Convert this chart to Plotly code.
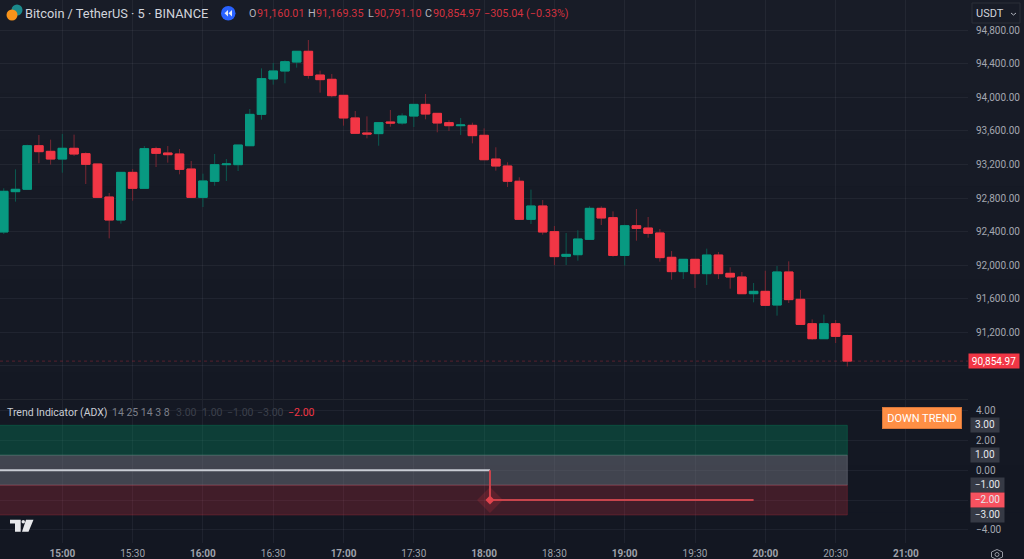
import pandas as pd
import plotly.graph_objects as go

# ---------- data ----------
first_bar = "2024-12-19 14:35"
opens = [92395,92876,92904,93424,93357,93265,93393,93329,93206,92812,92538,93106,92916,93389,93337,93325,93146,92808,92999,93198,93198,93424,93798,94220,94315,94422,
         94550,94267,94216,94025,93755,93576,93568,93707,93695,93778,93917,93810,93699,93663,93667,93548,93265,93182,93000,92546,92705,92399,92105,92124,92307,
         92677,92566,92116,92470,92442,92383,92093,91922,92069,91898,92120,91902,91858,91659,91687,91524,91918,91592,91301,91122,91301,91160.01]
closes = [92880,92904,93424,93353,93265,93393,93325,93202,92808,92538,93106,92916,93389,93333,93317,93142,92808,93003,93198,93206,93432,93798,94224,94315,94426,94550,
          94263,94212,94021,93755,93572,93564,93699,93695,93778,93917,93802,93695,93663,93671,93544,93257,93182,93000,92546,92705,92395,92101,92128,92311,92677,
          92562,92116,92470,92438,92379,92089,91922,92069,91898,92120,91898,91858,91659,91687,91520,91918,91588,91293,91122,91301,91150,90854.97]
highs = [92916,93142,93436,93552,93496,93564,93556,93345,93206,92860,93106,93146,93420,93412,93420,93385,93242,93091,93325,93265,93432,93862,94347,94411,94442,94550,
         94685,94319,94279,94025,93838,93774,93699,93850,93810,93917,94041,93810,93727,93755,93699,93631,93405,93226,93047,92900,92776,92466,92383,92415,92701,
         92701,92641,92482,92669,92574,92430,92168,92069,92069,92196,92156,91973,91918,91786,91933,91989,92045,91703,91353,91409,91345,91169.35]
lows = [92371,92757,92904,93214,93198,93102,93301,92967,92808,92319,92494,92768,92916,93170,93222,93083,92808,92693,92947,93003,93122,93424,93735,94152,94168,94355,
        94224,94057,94001,93663,93568,93512,93424,93651,93675,93647,93739,93584,93600,93552,93452,93257,93126,92932,92546,92490,92363,92001,92001,92053,92307,
        92478,92101,91997,92291,92327,92041,91826,91834,91727,91763,91834,91719,91659,91556,91520,91397,91548,91293,91110,91118,91071,90791.10]
last_price = 90854.97

price_ticks = [94800,94400,94000,93600,93200,92800,92400,92000,91600,91200,90800]
price_labels = ["94,800.00","94,400.00","94,000.00","93,600.00","93,200.00","92,800.00","92,400.00","92,000.00","91,600.00","91,200.00",""]
state_ticks = [4,2,0,-2,-4]
state_labels = ["4.00","2.00","0.00","","−4.00"]
time_ticks = ["15:00","15:30","16:00","16:30","17:00","17:30","18:00","18:30","19:00","19:30","20:00","20:30","21:00"]

neutral_x = ["2024-12-19 14:30","2024-12-19 18:02:30"]
neutral_y = [0,0]
down_x = ["2024-12-19 18:02:30","2024-12-19 18:02:30","2024-12-19 19:55"]
down_y = [0,-2,-2]
flip_x = ["2024-12-19 18:02:30"]
flip_y = [-2]
band_start, band_end = "2024-12-19 14:30", "2024-12-19 20:35"
bands = [(1,3,"rgba(0,150,100,0.31)"),(-1,1,"rgba(120,123,134,0.46)"),(-3,-1,"rgba(242,54,69,0.21)")]

# ---------- geometry helpers (page pixels to paper fractions) ----------
W, H = 1024, 559
def px(x): return x / W
def py(y): return 1 - y / H

times = pd.date_range(first_bar, periods=len(opens), freq="5min")
UP, DOWN, UP_W, DOWN_W = "#089981", "#f23645", "#0b5a50", "#7a2733"
GRID = "rgba(240,243,250,0.055)"
FONT = "Roboto"

fig = go.Figure()
# wicks
fig.add_trace(go.Candlestick(x=times, open=opens, high=highs, low=lows, close=closes, xaxis="x", yaxis="y", whiskerwidth=0,
    increasing=dict(line=dict(color=UP_W, width=1), fillcolor=UP_W), decreasing=dict(line=dict(color=DOWN_W, width=1), fillcolor=DOWN_W)))
# bodies
body_hi = [max(o, c) for o, c in zip(opens, closes)]
body_lo = [min(o, c) for o, c in zip(opens, closes)]
fig.add_trace(go.Candlestick(x=times, open=opens, high=body_hi, low=body_lo, close=closes, xaxis="x", yaxis="y", whiskerwidth=0,
    increasing=dict(line=dict(color=UP, width=1), fillcolor=UP), decreasing=dict(line=dict(color=DOWN, width=1), fillcolor=DOWN)))

for lo, hi, col in bands:
    fig.add_trace(go.Scatter(x=[band_start, band_end, band_end, band_start, band_start], y=[lo, lo, hi, hi, lo],
        mode="lines", fill="toself", fillcolor=col, line=dict(width=1, color=col), xaxis="x2", yaxis="y2"))
fig.add_trace(go.Scatter(x=neutral_x, y=neutral_y, mode="lines", line=dict(color="#c9ccd4", width=2), xaxis="x2", yaxis="y2"))
fig.add_trace(go.Scatter(x=down_x, y=down_y, mode="lines", line=dict(color="#c8444c", width=2), xaxis="x2", yaxis="y2"))
fig.add_trace(go.Scatter(x=flip_x, y=flip_y, mode="markers", marker=dict(symbol="diamond", size=20, color="rgba(242,54,69,0.16)", line=dict(width=0)), xaxis="x2", yaxis="y2"))
fig.add_trace(go.Scatter(x=flip_x, y=flip_y, mode="markers", marker=dict(symbol="diamond", size=7, color="#e0434c", line=dict(width=0)), xaxis="x2", yaxis="y2"))

# ---------- background + chrome shapes ----------
shapes = []
top_c, bot_c = (24, 28, 39), (19, 23, 34)
N = 12
for i in range(N):
    t = i / (N - 1)
    c = tuple(round(a + (b - a) * t) for a, b in zip(top_c, bot_c))
    shapes.append(dict(type="rect", xref="paper", yref="paper", x0=0, x1=1, y0=py(H * (i + 1) / N + 1), y1=py(H * i / N),
                       fillcolor="rgb(%d,%d,%d)" % c, line=dict(width=0), layer="below"))
# last price line
shapes.append(dict(type="line", xref="paper", yref="y", x0=0, x1=px(968), y0=last_price, y1=last_price,
                   line=dict(color="rgba(242,54,69,0.3)", width=1, dash="dot")))
# pane separator
shapes.append(dict(type="line", xref="paper", yref="paper", x0=0, x1=px(968), y0=py(399.5), y1=py(399.5), line=dict(color="#22262f", width=1)))
# cover + USDT box
shapes.append(dict(type="rect", xref="paper", yref="paper", x0=px(968), x1=1, y0=py(26), y1=1, fillcolor="#181c27", line=dict(width=0)))
shapes.append(dict(type="rect", xref="paper", yref="paper", x0=px(972), x1=px(1020), y0=py(23), y1=py(3), fillcolor="#181c27", line=dict(color="#2a2e39", width=1)))
shapes.append(dict(type="path", xref="paper", yref="paper", line=dict(color="#b2b5be", width=1),
    path=f"M{px(1011)},{py(13)} L{px(1013.5)},{py(15)} L{px(1016)},{py(13)}"))
# symbol icons
for cx, cy, r, col in [(17, 10, 5.5, "#1b8a8c"), (12, 15, 5.5, "#f7931a")]:
    shapes.append(dict(type="circle", xref="paper", yref="paper", x0=px(cx - r), x1=px(cx + r), y0=py(cy + r), y1=py(cy - r), fillcolor=col, line=dict(width=0)))
shapes.append(dict(type="circle", xref="paper", yref="paper", x0=px(221), x1=px(235.5), y0=py(20.5), y1=py(6), fillcolor="#2962ff", line=dict(width=0)))
for x0 in (224.5, 228.5):
    shapes.append(dict(type="path", xref="paper", yref="paper", fillcolor="#e8ecf5", line=dict(width=0),
        path=f"M{px(x0+3.5)},{py(10)} L{px(x0)},{py(13.2)} L{px(x0+3.5)},{py(16.5)} Z"))
# TradingView mark
logo = (f"M{px(10)},{py(519.7)} L{px(20.7)},{py(519.7)} L{px(20.7)},{py(531.7)} L{px(15)},{py(531.7)} L{px(15)},{py(523.5)} L{px(10)},{py(523.5)} Z "
        f"M{px(26)},{py(519.7)} L{px(33.5)},{py(519.7)} L{px(28.5)},{py(531.7)} L{px(22)},{py(531.7)} Z")
shapes.append(dict(type="path", xref="paper", yref="paper", path=logo, fillcolor="#e8e9ec", line=dict(width=0)))
shapes.append(dict(type="circle", xref="paper", yref="paper", x0=px(21.5), x1=px(25), y0=py(523.5), y1=py(520), fillcolor="#e8e9ec", line=dict(width=0)))
# settings icon
hexa = f"M{px(997)},{py(549.5)} L{px(1002.5)},{py(552)} L{px(1002.5)},{py(557)} L{px(997)},{py(559.5)} L{px(991.5)},{py(557)} L{px(991.5)},{py(552)} Z"
shapes.append(dict(type="path", xref="paper", yref="paper", path=hexa, line=dict(color="#9598a1", width=1)))
shapes.append(dict(type="circle", xref="paper", yref="paper", x0=px(995), x1=px(999), y0=py(556.5), y1=py(552.5), line=dict(color="#9598a1", width=1)))

# ---------- text ----------
ann = []
def label(x, y, text, color, size=11, anchor="left", **kw):
    ann.append(dict(xref="paper", yref="paper", x=px(x), y=py(y), text=text, showarrow=False, xanchor=anchor, yanchor="middle",
                    font=dict(family=FONT, size=size, color=color), **kw))

label(23, 13, "Bitcoin / TetherUS · 5 · BINANCE", "#d1d4dc", 12.8)
RED = "#d3323f"
label(246.5, 13, "O", "#b2b5be", 10.8); label(255, 13, "91,160.01", RED, 10.8)
label(305.5, 13, "H", "#b2b5be", 10.8); label(314, 13, "91,169.35", RED, 10.8)
label(365.5, 13, "L", "#b2b5be", 10.8); label(372, 13, "90,791.10", RED, 10.8)
label(422.5, 13, "C", "#b2b5be", 10.8); label(431, 13, "90,854.97", RED, 10.8)
label(482, 13, "−305.04 (−0.33%)", RED, 10.8)
label(974, 13, "USDT", "#d1d4dc", 11)
label(5, 412, "Trend Indicator (ADX)", "#c9ccd4", 10.5)
label(110, 412, "14 25 14 3 8", "#7d808a", 10.5)
for x, t in [(174, "3.00"), (200, "1.00"), (225, "−1.00"), (255, "−3.00")]:
    label(x, 412, t, "#3c404b", 10.5)
label(286, 412, "−2.00", "#f23645", 10.5)
label(968, 361, "90,854.97", "#ffffff", 10, width=50, height=14, bgcolor="#f23645", align="center", borderpad=0)
label(882, 418, "DOWN TREND", "#ffffff", 11, width=78, height=20, bgcolor="#ff8f45", bordercolor="#d9773a", borderwidth=1, align="center", borderpad=0)
for y, t, col, w in [(425, "3.00", "#363a45", 28), (455.2, "1.00", "#363a45", 28), (485.2, "−1.00", "#363a45", 33), (515, "−3.00", "#363a45", 33), (500, "−2.00", "#f7525f", 33)]:
    label(970, y, t, "#e6e8ee", 10, width=w, height=13.5, bgcolor=col, align="center", borderpad=0)

# ---------- layout ----------
day = "2024-12-19 "
ttext = [f"<b>{t}</b>" if t.endswith(":00") else t for t in time_ticks]
tvals = [day + t for t in time_ticks]
xr = [day + "14:33:24", day + "21:26:30"]
sep = py(400)
fig.update_layout(
    width=W, height=H, autosize=False,
    margin=dict(l=0, r=0, t=0, b=0), showlegend=False, hovermode=False,
    paper_bgcolor="#131722", plot_bgcolor="rgba(0,0,0,0)",
    boxmode="overlay", boxgap=0.27, boxgroupgap=0,
    shapes=shapes, annotations=ann, font=dict(family=FONT),
    xaxis=dict(domain=[0, px(968)], range=xr, type="date", anchor="y", tickmode="array", tickvals=tvals, ticktext=[""] * len(tvals), automargin=False,
               showgrid=True, gridcolor=GRID, gridwidth=1, zeroline=False, showline=False, ticks="", rangeslider=dict(visible=False)),
    yaxis=dict(domain=[sep, 1], range=[90391, 95162], side="right", tickmode="array", tickvals=price_ticks, ticktext=price_labels, automargin=False,
               tickfont=dict(size=10, color="#a4a7b0"), ticklabelstandoff=7, showgrid=True, gridcolor=GRID, zeroline=False, showline=False, ticks=""),
    xaxis2=dict(domain=[0, px(968)], range=xr, type="date", anchor="y2", tickmode="array", tickvals=tvals, ticktext=ttext, automargin=False,
                tickfont=dict(size=10, color="#9ea1aa"), ticklabelstandoff=3, showgrid=True, gridcolor=GRID, zeroline=False, showline=False, ticks=""),
    yaxis2=dict(domain=[py(543), sep], range=[-4.87, 4.69], side="right", tickmode="array", tickvals=state_ticks, ticktext=state_labels, automargin=False,
                tickfont=dict(size=10, color="#a4a7b0"), ticklabelstandoff=7, showgrid=True, gridcolor=GRID, zeroline=False, showline=False, ticks=""),
)
fig.write_html("out.html", config=dict(displayModeBar=False),
               post_script="document.documentElement.style.overflow='hidden';document.body.style.margin='0';")
